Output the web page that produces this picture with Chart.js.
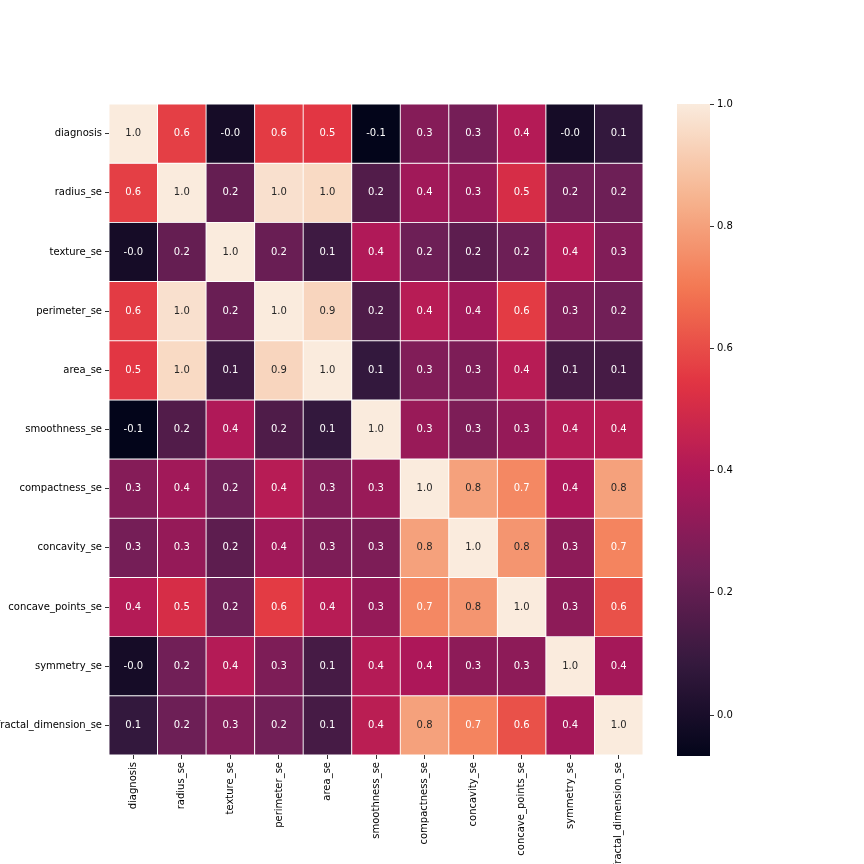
<!DOCTYPE html>
<html>
<head>
<meta charset="utf-8">
<script src="https://cdn.jsdelivr.net/npm/chart.js@4.4.1/dist/chart.umd.min.js"></script>
<style>
  body { margin: 0; background: #fff; }
  #wrap { position: relative; width: 864px; height: 864px; }
  #heat { position: absolute; left: 0; top: 0; }
  #cbar { position: absolute; left: 677px; top: 0; }
</style>
</head>
<body>
<div id="wrap">
  <canvas id="heat" width="864" height="864"></canvas>
  <canvas id="cbar" width="187" height="864"></canvas>
</div>
<script>
const features = ['diagnosis', 'radius_se', 'texture_se', 'perimeter_se', 'area_se', 'smoothness_se',
  'compactness_se', 'concavity_se', 'concave_points_se', 'symmetry_se', 'fractal_dimension_se'];

// correlation matrix, one row per feature
const corrValues = [
  [1.00, 0.57, -0.01, 0.56, 0.548, -0.07, 0.29, 0.25, 0.41, -0.01, 0.08],
  [0.57, 1.00, 0.21, 0.97, 0.952, 0.16, 0.36, 0.33, 0.51, 0.24, 0.23],
  [-0.01, 0.21, 1.00, 0.22, 0.11, 0.40, 0.23, 0.19, 0.23, 0.41, 0.28],
  [0.56, 0.97, 0.22, 1.00, 0.94, 0.152, 0.42, 0.36, 0.56, 0.27, 0.24],
  [0.548, 0.952, 0.11, 0.94, 1.00, 0.08, 0.28, 0.27, 0.42, 0.13, 0.13],
  [-0.07, 0.16, 0.40, 0.152, 0.08, 1.00, 0.34, 0.27, 0.33, 0.41, 0.43],
  [0.29, 0.36, 0.23, 0.42, 0.28, 0.34, 1.00, 0.80, 0.74, 0.39, 0.80],
  [0.25, 0.33, 0.19, 0.36, 0.27, 0.27, 0.80, 1.00, 0.77, 0.31, 0.73],
  [0.41, 0.51, 0.23, 0.56, 0.42, 0.33, 0.74, 0.77, 1.00, 0.31, 0.61],
  [-0.01, 0.24, 0.41, 0.27, 0.13, 0.41, 0.39, 0.31, 0.31, 1.00, 0.37],
  [0.08, 0.23, 0.28, 0.24, 0.13, 0.43, 0.80, 0.73, 0.61, 0.37, 1.00]
];

const cbarTicks = [0.0, 0.2, 0.4, 0.6, 0.8, 1.0];
const vmin = -0.067, vmax = 1.0;

// rocket colormap stops
const rocket = [
  [0.000, [3, 5, 26]],
  [0.143, [53, 25, 62]],
  [0.286, [112, 31, 87]],
  [0.429, [173, 23, 89]],
  [0.571, [225, 51, 66]],
  [0.714, [243, 118, 81]],
  [0.857, [246, 180, 143]],
  [1.000, [250, 235, 221]]
];

function cmap(t) {
  t = Math.max(0, Math.min(1, t));
  for (let i = 1; i < rocket.length; i++) {
    if (t <= rocket[i][0]) {
      const [t0, c0] = rocket[i - 1], [t1, c1] = rocket[i];
      const f = (t - t0) / (t1 - t0);
      return c0.map((c, k) => Math.round(c + (c1[k] - c) * f));
    }
  }
  return rocket[rocket.length - 1][1];
}
const rgb = c => `rgb(${c[0]},${c[1]},${c[2]})`;
const norm = v => (v - vmin) / (vmax - vmin);

function luminance(c) {
  const lin = c.map(x => { x /= 255; return x <= 0.03928 ? x / 12.92 : Math.pow((x + 0.055) / 1.055, 2.4); });
  return 0.2126 * lin[0] + 0.7152 * lin[1] + 0.0722 * lin[2];
}

const datasets = corrValues.map((row, r) => ({
  label: features[r],
  data: row.map(() => [r, r + 1]),
  backgroundColor: row.map(v => rgb(cmap(norm(v)))),
  borderColor: '#fff',
  borderWidth: 0.8,
  borderSkipped: false,
  barPercentage: 1,
  categoryPercentage: 1,
  grouped: false
}));

const annotate = {
  id: 'annotate',
  afterDatasetsDraw(chart) {
    const ctx = chart.ctx;
    ctx.save();
    ctx.font = '10px "DejaVu Sans"';
    ctx.textAlign = 'center';
    ctx.textBaseline = 'middle';
    chart.data.datasets.forEach((ds, r) => {
      chart.getDatasetMeta(r).data.forEach((el, c) => {
        const v = corrValues[r][c];
        const p = el.getProps(['x', 'y', 'base'], true);
        ctx.fillStyle = luminance(cmap(norm(v))) > 0.408 ? '#262626' : '#ffffff';
        ctx.fillText(v.toFixed(1), p.x, (p.y + p.base) / 2);
      });
    });
    ctx.restore();
  }
};

Chart.defaults.font.family = '"DejaVu Sans"';
Chart.defaults.font.size = 10;
Chart.defaults.color = '#000';

new Chart(document.getElementById('heat'), {
  type: 'bar',
  data: { labels: features, datasets: datasets },
  options: {
    responsive: false,
    animation: false,
    layout: { padding: { top: 104, right: 221, left: 0, bottom: 0 } },
    plugins: { legend: { display: false }, tooltip: { enabled: false } },
    scales: {
      x: {
        type: 'category',
        offset: true,
        grid: { display: true, offset: false, drawOnChartArea: false, drawTicks: true, tickLength: 4, tickWidth: 0.8, tickColor: '#000' },
        border: { display: false },
        ticks: { minRotation: 90, maxRotation: 90, autoSkip: false, padding: 3 },
        afterFit(s) { s.height = 109; }
      },
      y: { type: 'linear', min: 0, max: 11, reverse: true, display: false },
      yl: {
        type: 'category',
        labels: features,
        position: 'left',
        offset: true,
        grid: { display: true, offset: false, drawOnChartArea: false, drawTicks: true, tickLength: 4, tickWidth: 0.8, tickColor: '#000' },
        border: { display: false },
        ticks: { autoSkip: false, padding: 3 },
        afterFit(s) { s.width = 109; }
      }
    }
  },
  plugins: [annotate]
});

const gradientBar = {
  id: 'gradientBar',
  beforeDatasetsDraw(chart) {
    const { ctx, chartArea: a } = chart;
    const g = ctx.createLinearGradient(0, a.bottom, 0, a.top);
    for (let i = 0; i <= 50; i++) g.addColorStop(i / 50, rgb(cmap(i / 50)));
    ctx.save();
    ctx.fillStyle = g;
    ctx.fillRect(a.left, a.top, a.right - a.left, a.bottom - a.top);
    ctx.restore();
  }
};

new Chart(document.getElementById('cbar'), {
  type: 'bar',
  data: { labels: [''], datasets: [] },
  options: {
    responsive: false,
    animation: false,
    layout: { padding: { top: 104, bottom: 108, left: 0, right: 0 } },
    plugins: { legend: { display: false }, tooltip: { enabled: false } },
    scales: {
      x: { display: false },
      y: {
        type: 'linear',
        position: 'right',
        min: vmin,
        max: vmax,
        afterBuildTicks(s) { s.ticks = cbarTicks.map(v => ({ value: v })); },
        grid: { display: true, drawOnChartArea: false, drawTicks: true, tickLength: 4, tickWidth: 0.8, tickColor: '#000' },
        border: { display: false },
        ticks: { padding: 3, callback: v => v.toFixed(1) },
        afterFit(s) { s.width = 154; }
      }
    }
  },
  plugins: [gradientBar]
});
</script>
</body>
</html>
